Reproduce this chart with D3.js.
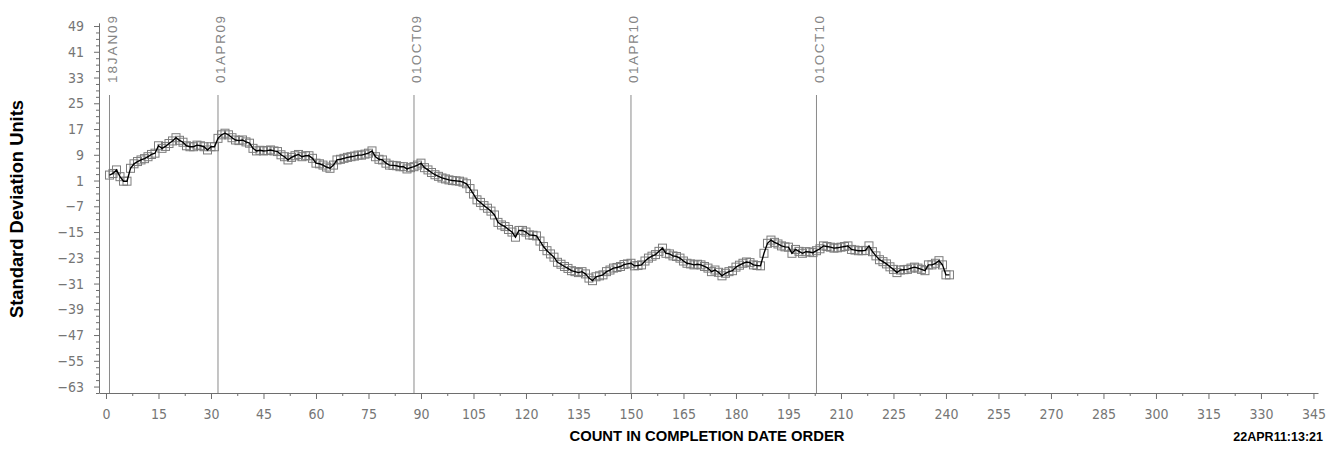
<!DOCTYPE html>
<html>
<head>
<meta charset="utf-8">
<script src="https://cdn.jsdelivr.net/npm/d3@7"></script>
<style>
  body { margin: 0; background: #fff; }
  svg { display: block; }
</style>
</head>
<body>
<div id="chart"></div>
<script>
// Standard deviation units, one value per count (count = position + 1)
const values = [
    2.7, 3.2, 4.3, 2.2, 0.8, 0.8, 4.8, 6.2, 6.9, 7.4,
    7.8, 8.4, 9.1, 9.5, 11.8, 11.0, 11.6, 12.5, 13.3, 14.3,
    13.5, 12.9, 11.8, 11.5, 11.5, 12.0, 11.8, 11.5, 10.5, 11.5,
    11.5, 14.1, 15.2, 15.7, 15.2, 14.3, 13.6, 13.4, 13.6, 13.0,
    12.6, 11.0, 10.2, 10.4, 10.2, 10.3, 10.5, 10.2, 10.0, 9.0,
    8.4, 7.4, 8.2, 8.7, 9.1, 8.4, 8.7, 8.7, 7.9, 6.4,
    6.2, 5.8, 5.2, 4.8, 5.8, 7.4, 7.6, 7.9, 8.2, 8.4,
    8.6, 8.9, 8.9, 9.2, 9.5, 10.2, 8.4, 7.6, 7.4, 6.4,
    5.8, 5.7, 5.6, 5.3, 5.3, 4.6, 5.0, 5.3, 5.8, 6.4,
    5.0, 4.3, 3.5, 2.8, 2.3, 1.8, 1.5, 1.2, 1.0, 0.9,
    0.8, 0.5, 0.0, -1.5, -3.2, -5.0, -5.8, -6.8, -7.6, -8.5,
    -9.7, -12.0, -12.8, -13.3, -14.2, -15.0, -16.6, -14.5, -14.5, -15.0,
    -15.9, -16.0, -16.2, -17.8, -19.5, -20.8, -21.8, -22.8, -24.4, -25.0,
    -25.7, -26.3, -27.0, -27.3, -27.6, -27.3, -28.0, -29.3, -30.1, -28.9,
    -28.6, -28.3, -27.3, -26.8, -26.2, -26.0, -25.7, -25.1, -24.9, -24.7,
    -25.5, -25.4, -25.2, -24.0, -23.1, -22.5, -22.0, -21.0, -20.0, -21.6,
    -21.8, -22.4, -22.6, -23.1, -24.0, -24.7, -24.9, -25.2, -25.0, -25.2,
    -25.7, -26.2, -27.3, -26.8, -27.5, -28.6, -27.8, -27.3, -27.0, -25.9,
    -25.3, -24.7, -24.3, -24.5, -25.2, -25.4, -25.5, -21.6, -18.5, -17.5,
    -18.2, -18.7, -19.3, -19.6, -19.7, -21.6, -20.4, -21.0, -21.6, -21.1,
    -21.2, -21.4, -20.8, -20.2, -19.3, -19.5, -19.7, -20.0, -19.9, -19.7,
    -19.5, -19.3, -20.4, -20.6, -20.8, -20.8, -20.7, -19.3, -21.1, -22.4,
    -23.6, -24.2, -24.9, -25.8, -26.6, -27.6, -26.8, -26.7, -26.6, -26.2,
    -25.9, -26.2, -26.6, -27.0, -25.2, -25.2, -24.7, -23.9, -25.2, -28.3,
    -28.3
];

// Reference dates and the count where each falls
const refLabels = ["18JAN09", "01APR09", "01OCT09", "01APR10", "01OCT10"];
const refCounts = [1, 32, 88, 150, 203];

// Tick values
const xTicks = [0, 15, 30, 45, 60, 75, 90, 105, 120, 135, 150, 165, 180,
    195, 210, 225, 240, 255, 270, 285, 300, 315, 330, 345];
const yTicks = [-63, -55, -47, -39, -31, -23, -15, -7, 1, 9, 17, 25, 33, 41, 49];

const points = values.map((v, i) => ({ count: i + 1, value: v }));

const W = 1338, H = 461;
const axisColor = "#6e6e6e";
const tickFont = "'Liberation Sans Narrow', 'DejaVu Sans Condensed', sans-serif";
const titleFont = "'Liberation Sans Narrow', 'Liberation Sans', Arial, sans-serif";

const svg = d3.select("#chart")
    .append("svg")
    .attr("width", W)
    .attr("height", H);

// Scales
const x = d3.scaleLinear().domain([-2, 346.3]).range([99, 1318]);
const y = d3.scaleLinear().domain([-65, 50]).range([393, 22.8]);

// Reference lines for dates
svg.append("g")
    .selectAll("line")
    .data(refCounts)
    .join("line")
    .attr("x1", d => x(d))
    .attr("x2", d => x(d))
    .attr("y1", 95)
    .attr("y2", y(-65))
    .attr("stroke", "#8a8a8a")
    .attr("stroke-width", 1);

svg.append("g")
    .selectAll("text")
    .data(refLabels)
    .join("text")
    .attr("transform", (d, i) => `translate(${x(refCounts[i]) + 7.5},83) rotate(-90)`)
    .attr("text-anchor", "start")
    .attr("textLength", 67)
    .attr("lengthAdjust", "spacing")
    .style("font-family", "'Liberation Sans', Arial, sans-serif")
    .style("font-size", "13.5px")
    .attr("fill", "#858585")
    .text(d => d);

// Y axis: major ticks with labels, minor ticks every 2 units
const yMinor = [];
for (let v = -65; v <= 50; v += 2) if (!yTicks.includes(v)) yMinor.push(v);

const yAxis = svg.append("g")
    .attr("transform", `translate(${x(-2)},0)`)
    .call(d3.axisLeft(y).tickValues(yTicks).tickSize(5).tickSizeOuter(0)
        .tickFormat(d => d < 0 ? "\u2212" + Math.abs(d) : d));
yAxis.select(".domain").attr("stroke", axisColor);
yAxis.selectAll(".tick line").attr("stroke", axisColor);
yAxis.selectAll(".tick text")
    .attr("x", -15)
    .attr("fill", "#757575")
    .style("font-family", tickFont)
    .style("font-size", "14px");

svg.append("g")
    .attr("transform", `translate(${x(-2)},0)`)
    .call(d3.axisLeft(y).tickValues(yMinor).tickSize(3).tickFormat(""))
    .call(g => g.select(".domain").remove())
    .selectAll(".tick line").attr("stroke", axisColor);

// X axis: major ticks every 15, minor ticks between
const xMinor = xTicks.map(d => d + 7.5);

const xAxis = svg.append("g")
    .attr("transform", `translate(0,${y(-65)})`)
    .call(d3.axisBottom(x).tickValues(xTicks).tickSize(6).tickSizeOuter(0));
xAxis.select(".domain").attr("stroke", axisColor);
xAxis.selectAll(".tick line").attr("stroke", axisColor);
xAxis.selectAll(".tick text")
    .attr("y", 26)
    .attr("dy", 0)
    .attr("fill", "#757575")
    .style("font-family", tickFont)
    .style("font-size", "14px");

svg.append("g")
    .attr("transform", `translate(0,${y(-65)})`)
    .call(d3.axisBottom(x).tickValues(xMinor).tickSize(3).tickFormat(""))
    .call(g => g.select(".domain").remove())
    .selectAll(".tick line").attr("stroke", axisColor);

// Square markers
svg.append("g")
    .selectAll("rect")
    .data(points)
    .join("rect")
    .attr("x", d => x(d.count) - 4)
    .attr("y", d => y(d.value) - 4)
    .attr("width", 8)
    .attr("height", 8)
    .attr("fill", "none")
    .attr("stroke", "#7c7c7c")
    .attr("stroke-width", 1);

// Series line
const line = d3.line()
    .x(d => x(d.count))
    .y(d => y(d.value));

svg.append("path")
    .datum(points)
    .attr("d", line)
    .attr("fill", "none")
    .attr("stroke", "#000")
    .attr("stroke-width", 1.4);

// Axis titles
svg.append("text")
    .attr("transform", `translate(23,209) rotate(-90)`)
    .attr("text-anchor", "middle")
    .attr("textLength", 218)
    .attr("lengthAdjust", "spacingAndGlyphs")
    .style("font-family", titleFont)
    .style("font-weight", "bold")
    .style("font-size", "18px")
    .text("Standard  Deviation  Units");

svg.append("text")
    .attr("x", 707)
    .attr("y", 441)
    .attr("text-anchor", "middle")
    .attr("textLength", 275)
    .attr("lengthAdjust", "spacingAndGlyphs")
    .style("font-family", titleFont)
    .style("font-weight", "bold")
    .style("font-size", "15px")
    .text("COUNT IN COMPLETION DATE ORDER");

svg.append("text")
    .attr("x", 1323)
    .attr("y", 441)
    .attr("text-anchor", "end")
    .style("font-family", titleFont)
    .style("font-weight", "bold")
    .style("font-size", "12.5px")
    .text("22APR11:13:21");
</script>
</body>
</html>
